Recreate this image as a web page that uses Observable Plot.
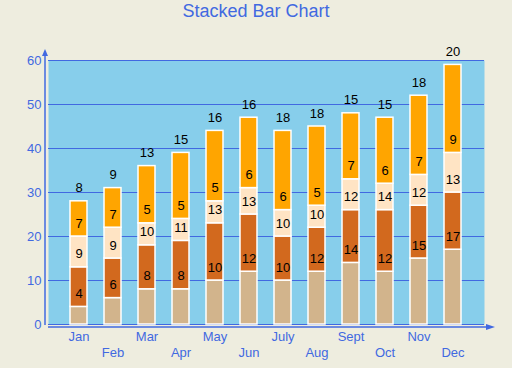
<!DOCTYPE html>
<html><head><meta charset="utf-8">
<script src="https://cdn.jsdelivr.net/npm/d3@7"></script>
<script src="https://cdn.jsdelivr.net/npm/@observablehq/plot@0.6"></script>
<style>
body{margin:0;background:#eeeddf;width:512px;height:368px;overflow:hidden}
#title{height:26px;font:18px "Liberation Sans",Arial,sans-serif;color:#4169e1;text-align:center;line-height:22px}
</style></head><body>
<div id="title">Stacked Bar Chart</div>
<div id="chart"></div>
<script>
const months = ["Jan","Feb","Mar","Apr","May","Jun","July","Aug","Sept","Oct","Nov","Dec"];
const seriesNames = ["S1","S2","S3","S4"];
const s1 = [4,6,8,8,10,12,10,12,14,12,15,17];
const s2 = [9,9,10,11,13,13,10,10,12,14,12,13];
const s3 = [7,7,5,5,5,6,6,5,7,6,7,9];
const s4 = [8,9,13,15,16,16,18,18,15,15,18,20];
const seriesValues = [s1,s2,s3,s4];
const colors = ["#d2b48c","#d2691e","#ffe4c4","#ffa500"];
const yTicks = [0,10,20,30,40,50,60];

const data = [];
months.forEach((m,i)=>seriesNames.forEach((s,j)=>data.push({month:m, series:s, value:seriesValues[j][i]})));

const blue = "#4169e1";
const plot = Plot.plot({
  width: 512, height: 342,
  marginTop: 34, marginBottom: 44, marginLeft: 48, marginRight: 28,
  style: {background: "transparent", fontFamily: "'Liberation Sans', Arial, sans-serif", fontSize: "13px"},
  x: {domain: months, padding: 0.49, axis: null},
  y: {domain: [0,60], axis: null},
  color: {domain: seriesNames, range: colors},
  marks: [
    Plot.frame({fill: "#87ceeb", stroke: null}),
    Plot.ruleY(yTicks, {stroke: blue, strokeWidth: 1}),
    Plot.barY(data, {x: "month", y: "value", fill: "series", stroke: "white", strokeWidth: 1.5}),
    Plot.text(data, Plot.stackY2({x: "month", y: "value", z: "series", text: "value", dy: -13, fill: "black", fontSize: 13})),
    Plot.axisY(yTicks, {tickSize: 0, tickPadding: 7, color: blue, fontSize: 13, label: null}),
    Plot.axisX(months.filter((d,i)=>i%2===0), {tickSize: 0, tickPadding: 7, color: blue, fontSize: 13, label: null}),
    Plot.axisX(months.filter((d,i)=>i%2===1), {tickSize: 0, tickPadding: 23, color: blue, fontSize: 13, label: null})
  ]
});
document.getElementById("chart").appendChild(plot);

const xs = plot.scale("x"), ys = plot.scale("y");
const [xl, xr] = xs.range;
const y0 = ys.apply(0), yTop = ys.apply(60);
const svg = d3.select(plot);
const g = svg.append("g").attr("fill", blue).attr("stroke", blue);
const ax = xl - 3;
g.append("line").attr("x1", ax).attr("x2", ax).attr("y1", y0 + 1).attr("y2", yTop - 8).attr("stroke-width", 1.5);
g.append("polygon").attr("stroke", "none").attr("points", `${ax},${yTop-11} ${ax-3},${yTop-4} ${ax+3},${yTop-4}`);
const ay = y0 + 3;
g.append("line").attr("x1", xl).attr("x2", xr + 4).attr("y1", ay).attr("y2", ay).attr("stroke-width", 1.5);
g.append("polygon").attr("stroke", "none").attr("points", `${xr+11},${ay} ${xr+2},${ay-3} ${xr+2},${ay+3}`);
</script>
</body></html>
